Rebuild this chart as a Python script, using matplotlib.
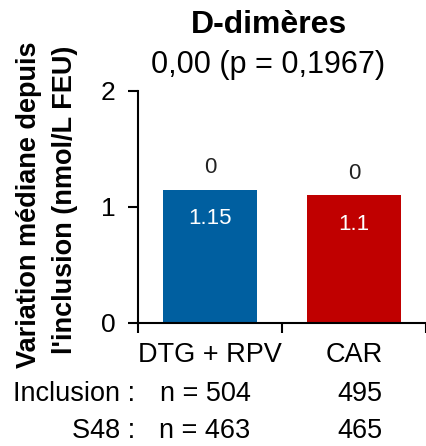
import matplotlib
matplotlib.use("Agg")
import matplotlib.pyplot as plt

plt.rcParams['font.family'] = ['Liberation Sans', 'DejaVu Sans']

groupes = ['DTG + RPV', 'CAR']
valeurs = [1.15, 1.1]
labels_haut = ['0', '0']
labels_barre = ['1.15', '1.1']
couleurs = ['#005FA0', '#C00000']
n_inclusion = ['n = 504', '495']
n_s48 = ['n = 463', '465']

W, H = 426, 446
fig = plt.figure(figsize=(W / 100, H / 100), dpi=100)
ax = fig.add_axes([138 / W, 1 - 323 / H, (W - 138) / W, (323 - 91) / H])

x = list(range(len(groupes)))
ax.bar(x, valeurs, width=0.65, color=couleurs)

for xi, v, lh, lb in zip(x, valeurs, labels_haut, labels_barre):
    ax.text(xi, v + 0.1, lh, ha='center', va='bottom', fontsize=16, color='#222222')
    ax.text(xi, v - 0.16, lb, ha='center', va='top', fontsize=16, color='white')

ax.set_xlim(-0.5, 1.46)
ax.set_ylim(0, 2)
ax.set_yticks([0, 1, 2])
ax.tick_params(axis='y', labelsize=19, length=7, width=1.5, pad=9)
ax.set_xticks([-0.5, 0.5, 1.5])
ax.set_xticklabels([])
ax.tick_params(axis='x', which='major', length=7, width=1.5)
ax.set_xticks(x, minor=True)
ax.set_xticklabels(groupes, minor=True, fontsize=19.5)
ax.tick_params(axis='x', which='minor', length=0, pad=14)
for s in ['top', 'right']:
    ax.spines[s].set_visible(False)
for s in ['left', 'bottom']:
    ax.spines[s].set_linewidth(1.5)

fig.text(269 / W, 1 - 25 / H, 'D-dimères', ha='center', va='center', fontsize=23, fontweight='bold')
fig.text(268 / W, 1 - 65 / H, '0,00 (p = 0,1967)', ha='center', va='center', fontsize=22)

fig.text(29 / W, 1 - 205 / H, 'Variation médiane depuis', rotation=90, ha='center', va='center',
         fontsize=19.5, fontweight='bold')
fig.text(65 / W, 1 - 200 / H, "l'inclusion (nmol/L FEU)", rotation=90, ha='center', va='center',
         fontsize=19.5, fontweight='bold')

fig.text(135 / W, 1 - 394 / H, 'Inclusion :', ha='right', va='center', fontsize=19.5)
fig.text(135 / W, 1 - 431 / H, 'S48 :', ha='right', va='center', fontsize=19.5)
for cx, a, b in zip([205, 360], n_inclusion, n_s48):
    fig.text(cx / W, 1 - 394 / H, a, ha='center', va='center', fontsize=19.5)
    fig.text(cx / W, 1 - 431 / H, b, ha='center', va='center', fontsize=19.5)

fig.savefig('out.png', dpi=100)
